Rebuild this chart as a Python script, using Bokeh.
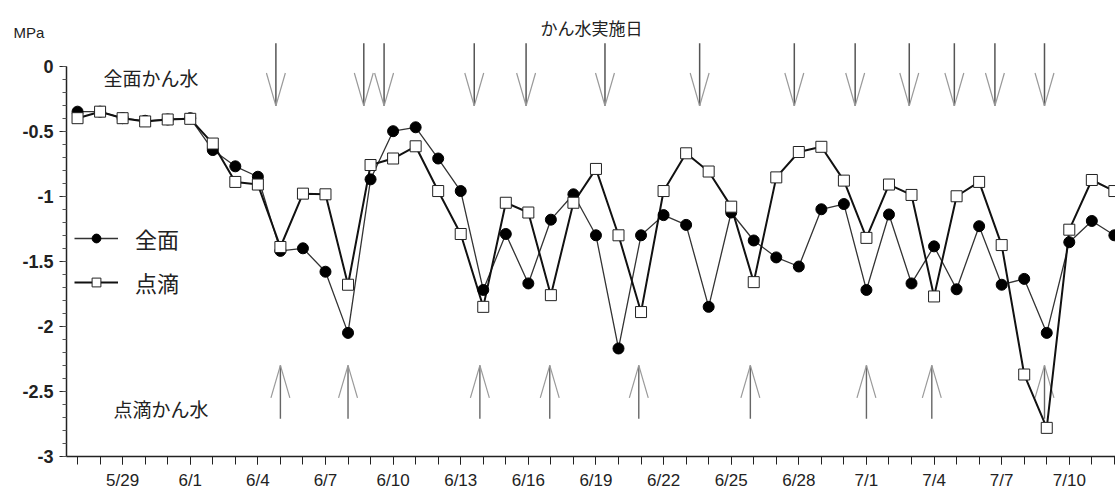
import numpy as np
from bokeh.plotting import figure
from bokeh.models import FixedTicker, Label, Range1d
from bokeh.embed import file_html
from bokeh.resources import INLINE

# day index: 0 = 5/27
days = list(range(47))

zenmen = [-0.35, -0.35, -0.40, -0.42, -0.41, -0.40, -0.645, -0.77, -0.85, -1.42,
          -1.40, -1.58, -2.05, -0.87, -0.50, -0.47, -0.71, -0.96, -1.72, -1.29,
          -1.67, -1.18, -0.985, -1.30, -2.17, -1.30, -1.145, -1.22, -1.85, -1.125,
          -1.34, -1.47, -1.54, -1.10, -1.06, -1.72, -1.14, -1.67, -1.385, -1.715,
          -1.23, -1.68, -1.635, -2.05, -1.353, -1.19, -1.30]

tenteki = [-0.40, -0.35, -0.40, -0.425, -0.41, -0.405, -0.595, -0.89, -0.91, -1.39,
           -0.98, -0.985, -1.68, -0.76, -0.71, -0.616, -0.96, -1.29, -1.85, -1.05,
           -1.125, -1.76, -1.05, -0.79, -1.30, -1.89, -0.96, -0.67, -0.81, -1.08,
           -1.66, -0.855, -0.66, -0.62, -0.88, -1.32, -0.91, -0.99, -1.77, -1.00,
           -0.89, -1.375, -2.37, -2.78, -1.257, -0.875, -0.96]

tick_days = [2, 5, 8, 11, 14, 17, 20, 23, 26, 29, 32, 35, 38, 41, 44]
tick_labels = ["5/29", "6/1", "6/4", "6/7", "6/10", "6/13", "6/16", "6/19",
               "6/22", "6/25", "6/28", "7/1", "7/4", "7/7", "7/10"]

y_ticks = [0, -0.5, -1, -1.5, -2, -2.5, -3]
y_tick_labels = ["0", "-0.5", "-1", "-1.5", "-2", "-2.5", "-3"]

# irrigation days (day index, as drawn)
zenmen_irrigation = [8.8, 12.7, 13.6, 17.6, 19.9, 23.4, 27.6, 31.8, 34.5, 36.9, 38.9, 40.7, 42.9]
tenteki_irrigation = [9.0, 12.0, 17.85, 20.95, 24.9, 29.85, 35.0, 37.9, 42.9]

JP = "Noto Sans CJK JP"
LAT = "Liberation Sans"

p = figure(width=1115, height=492, x_range=Range1d(-0.49, 46.05), y_range=Range1d(-3, 0.366),
           output_backend="svg", toolbar_location=None,
           min_border_left=66, min_border_right=0, min_border_top=18, min_border_bottom=33)
p.outline_line_color = None
p.grid.visible = False
p.background_fill_color = "white"
p.border_fill_color = "white"

# y axis
p.yaxis.ticker = FixedTicker(ticks=y_ticks,
                             minor_ticks=[round(v, 2) for v in np.arange(-3, 0.001, 0.1)])
p.yaxis.major_label_overrides = dict(zip(y_ticks, y_tick_labels))
p.yaxis.bounds = (-3, 0)
p.yaxis.major_tick_out = 7
p.yaxis.major_tick_in = 0
p.yaxis.minor_tick_out = 4
p.yaxis.minor_tick_in = 0
p.yaxis.axis_line_width = 1.5
p.yaxis.axis_line_color = "#222"
p.yaxis.major_tick_line_color = "#222"
p.yaxis.minor_tick_line_color = "#555"
p.yaxis.major_label_text_font = LAT
p.yaxis.major_label_text_font_style = "bold"
p.yaxis.major_label_text_font_size = "18px"
p.yaxis.major_label_text_color = "#222"
p.yaxis.major_label_standoff = 6

# x axis
p.xaxis.ticker = FixedTicker(ticks=tick_days, minor_ticks=days)
p.xaxis.major_label_overrides = dict(zip(tick_days, tick_labels))
p.xaxis.major_tick_out = 8
p.xaxis.major_tick_in = 0
p.xaxis.minor_tick_out = 8
p.xaxis.minor_tick_in = 0
p.xaxis.axis_line_width = 1.5
p.xaxis.axis_line_color = "#222"
p.xaxis.major_tick_line_color = "#222"
p.xaxis.minor_tick_line_color = "#222"
p.xaxis.major_label_text_font = LAT
p.xaxis.major_label_text_font_size = "17px"
p.xaxis.major_label_text_color = "#222"
p.xaxis.major_label_standoff = 6

# irrigation arrows (down: 全面, up: 点滴)
head_half = 0.42
dz = np.array(zenmen_irrigation)
top_y, tip_y, base_y = 0.176, -0.305, -0.053
p.segment(x0=dz, y0=top_y, x1=dz, y1=tip_y, line_color="#555", line_width=1.5)
p.segment(x0=dz - head_half, y0=base_y, x1=dz, y1=tip_y, line_color="#999", line_width=1.2)
p.segment(x0=dz + head_half, y0=base_y, x1=dz, y1=tip_y, line_color="#999", line_width=1.2)

dt = np.array(tenteki_irrigation)
tail_y, utip_y, ubase_y = -2.71, -2.30, -2.55
p.segment(x0=dt, y0=tail_y, x1=dt, y1=utip_y, line_color="#666", line_width=1.4)
p.segment(x0=dt - head_half, y0=ubase_y, x1=dt, y1=utip_y, line_color="#999", line_width=1.2)
p.segment(x0=dt + head_half, y0=ubase_y, x1=dt, y1=utip_y, line_color="#999", line_width=1.2)

# series
p.line(days, zenmen, line_width=1.3, line_color="#333", legend_label="全面")
p.line(days, tenteki, line_width=2.0, line_color="#111", legend_label="点滴")
p.scatter(days, zenmen, marker="circle", size=11, fill_color="black", line_color="black",
          legend_label="全面")
p.scatter(days, tenteki, marker="square", size=11, fill_color="white", line_color="#222",
          line_width=1, legend_label="点滴")

# legend
lg = p.legend[0]
lg.location = (8, 158)
lg.border_line_color = None
lg.background_fill_alpha = 0
lg.label_text_font = JP
lg.label_text_font_size = "22px"
lg.label_text_color = "#222"
lg.glyph_width = 44
lg.glyph_height = 22
lg.label_height = 22
lg.spacing = 12
lg.padding = 0
lg.margin = 0
lg.label_standoff = 17

# texts
p.add_layout(Label(x=-2.84, y=0.26, text="MPa", text_font=LAT, text_font_size="15px",
                   text_color="#222", text_baseline="middle", text_align="left"), "above")
p.add_layout(Label(x=22.8, y=0.30, text="かん水実施日", text_font=JP, text_font_size="17px",
                   text_color="#222", text_baseline="middle", text_align="center"))
p.add_layout(Label(x=1.15, y=-0.09, text="全面かん水", text_font=JP, text_font_size="19px",
                   text_color="#222", text_baseline="middle", text_align="left"))
p.add_layout(Label(x=1.6, y=-2.63, text="点滴かん水", text_font=JP, text_font_size="19px",
                   text_color="#222", text_baseline="middle", text_align="left"))

open("out.html", "w").write(file_html(p, INLINE))
